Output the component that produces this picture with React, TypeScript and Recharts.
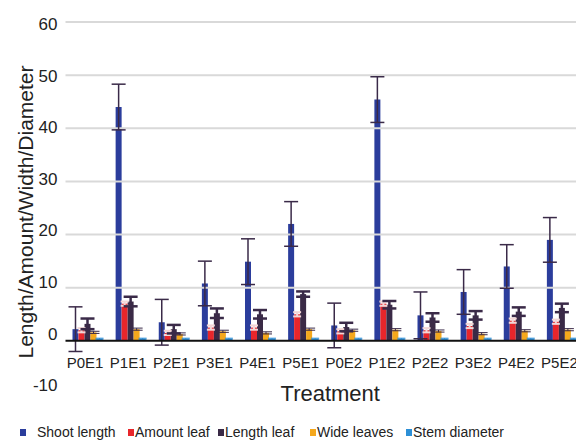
import React from 'react';
import { BarChart, Bar, XAxis, YAxis, ReferenceLine, ErrorBar, Legend } from 'recharts';

const treatments = ['P0E1', 'P1E1', 'P2E1', 'P3E1', 'P4E1', 'P5E1', 'P0E2', 'P1E2', 'P2E2', 'P3E2', 'P4E2', 'P5E2'];
const shootLength = [2.2, 44, 3.5, 10.8, 14.9, 22, 2.9, 45.4, 4.8, 9.2, 14, 19];
const shootLengthErr = [4.2, 4.3, 4.3, 4.2, 4.3, 4.2, 4.2, 4.3, 4.4, 4.2, 4.1, 4.2];
const amountLeaf = [2.0, 7.0, 1.5, 2.5, 2.5, 5.0, 1.8, 7.0, 2.0, 2.8, 3.8, 3.6];
const amountLeafErr = [0.4, 0.4, 0.4, 0.4, 0.4, 0.4, 0.4, 0.4, 0.4, 0.4, 0.4, 0.4];
const lengthLeaf = [3.2, 7.4, 2.2, 5.2, 5.0, 8.8, 2.6, 6.8, 4.4, 4.8, 5.5, 6.2];
const lengthLeafErr = [1.0, 0.9, 0.8, 0.9, 0.8, 0.5, 0.8, 0.7, 0.8, 0.8, 0.8, 0.8];
const wideLeaves = [1.6, 2.2, 1.3, 1.8, 1.5, 2.2, 2.0, 2.1, 1.85, 1.35, 1.9, 2.1];
const wideLeavesErr = [0.2, 0.2, 0.2, 0.2, 0.2, 0.2, 0.2, 0.2, 0.2, 0.2, 0.2, 0.2];
const stemDiameter = [0.4, 0.4, 0.4, 0.4, 0.4, 0.4, 0.4, 0.4, 0.4, 0.4, 0.4, 0.4];
const stemDiameterErr = [0.1, 0.1, 0.1, 0.1, 0.1, 0.1, 0.1, 0.1, 0.1, 0.1, 0.1, 0.1];
const yTicks = [-10, 0, 10, 20, 30, 40, 50, 60];
const gridValues = [10, 20, 30, 40, 50, 60];

const seriesNames = ['Shoot length', 'Amount leaf', 'Length leaf', 'Wide leaves', 'Stem diameter'];
const colors = ['#2b3d9c', '#e8262b', '#3a2a46', '#f5a81c', '#2d8fd6'];
const legendX = [20, 128, 218, 310, 406];

const data = treatments.map((t, i) => ({
  name: t,
  sl: shootLength[i], slErr: shootLengthErr[i],
  al: amountLeaf[i], alErr: amountLeafErr[i],
  ll: lengthLeaf[i], llErr: lengthLeafErr[i],
  wl: wideLeaves[i], wlErr: wideLeavesErr[i],
  sd: stemDiameter[i], sdErr: stemDiameterErr[i],
}));

const FONT = 'Liberation Sans, Arial, sans-serif';

const YTick = (props: any) => {
  const { x, y, payload } = props;
  const baseline = y + 8 - 0.0288 * (y - 22.5);
  return (
    <text x={x} y={baseline} textAnchor="end" fontSize={17} fill="#222" fontFamily={FONT}>
      {payload.value}
    </text>
  );
};

const XTick = (props: any) => {
  const { x, y, payload } = props;
  return (
    <text x={x - 2} y={y - 34} textAnchor="middle" fontSize={15} fill="#222" fontFamily={FONT}>
      {payload.value}
    </text>
  );
};

const LegendContent = () => (
  <div style={{ position: 'relative', width: 576, height: 22, fontFamily: FONT, fontSize: 14, color: '#222' }}>
    {seriesNames.map((n, i) => (
      <div key={n} style={{ position: 'absolute', left: legendX[i], top: 4, display: 'flex', alignItems: 'center', whiteSpace: 'nowrap' }}>
        <span style={{ display: 'inline-block', width: 6, height: 7, background: colors[i], marginRight: i === 0 ? 11 : 1 }} />
        <span>{n}</span>
      </div>
    ))}
  </div>
);

export default function App() {
  return (
    <div style={{ position: 'absolute', left: 0, top: 0, width: 576, height: 442, overflow: 'hidden', background: '#fff' }}>
      <BarChart
        width={590}
        height={442}
        data={data}
        margin={{ top: 22, right: 7, bottom: 0, left: 0 }}
        barSize={6}
        barGap={0}
      >
        {gridValues.map((v) => (
          <ReferenceLine key={v} y={v} stroke="#d9d9d9" strokeWidth={2} />
        ))}
        <XAxis
          dataKey="name"
          axisLine={false}
          tickLine={false}
          height={26}
          interval={0}
          tick={<XTick />}
          label={{
            content: (p: any) => {
              const vb = p.viewBox;
              return (
                <text x={vb.x + vb.width / 2 + 6} y={vb.y + 7} textAnchor="middle" fontSize={22} fill="#222" fontFamily={FONT}>
                  Treatment
                </text>
              );
            },
          }}
        />
        <YAxis
          domain={[-10, 60]}
          ticks={yTicks}
          interval={0}
          axisLine={false}
          tickLine={false}
          width={65.5}
          tick={<YTick />}
          label={{
            content: (p: any) => {
              const vb = p.viewBox;
              const cx = 33;
              const cy = vb.y + vb.height / 2 + 4;
              return (
                <text x={cx} y={cy} transform={`rotate(-90 ${cx} ${cy})`} textAnchor="middle" fontSize={21} fill="#222" fontFamily={FONT}>
                  Length/Amount/Width/Diameter
                </text>
              );
            },
          }}
        />
        <Bar dataKey="sl" name={seriesNames[0]} fill={colors[0]} isAnimationActive={false}>
          <ErrorBar dataKey="slErr" direction="y" width={7} strokeWidth={1.5} stroke="#3a2a48" />
        </Bar>
        <Bar dataKey="al" name={seriesNames[1]} fill={colors[1]} isAnimationActive={false}>
          <ErrorBar dataKey="alErr" direction="y" width={4} strokeWidth={2} stroke="#f3d6d6" />
        </Bar>
        <Bar dataKey="ll" name={seriesNames[2]} fill={colors[2]} isAnimationActive={false}>
          <ErrorBar dataKey="llErr" direction="y" width={7} strokeWidth={2.5} stroke="#3a2a48" />
        </Bar>
        <Bar dataKey="wl" name={seriesNames[3]} fill={colors[3]} isAnimationActive={false}>
          <ErrorBar dataKey="wlErr" direction="y" width={6} strokeWidth={1} stroke="#3a2a48" />
        </Bar>
        <Bar dataKey="sd" name={seriesNames[4]} fill={colors[4]} isAnimationActive={false}>
          <ErrorBar dataKey="sdErr" direction="y" width={4} strokeWidth={1} stroke="#2d8fd6" />
        </Bar>
        <ReferenceLine y={0} stroke="#111" strokeWidth={2} />
        <Legend verticalAlign="bottom" content={<LegendContent />} wrapperStyle={{ left: 0, bottom: 0, width: 576, height: 22 }} />
      </BarChart>
    </div>
  );
}
